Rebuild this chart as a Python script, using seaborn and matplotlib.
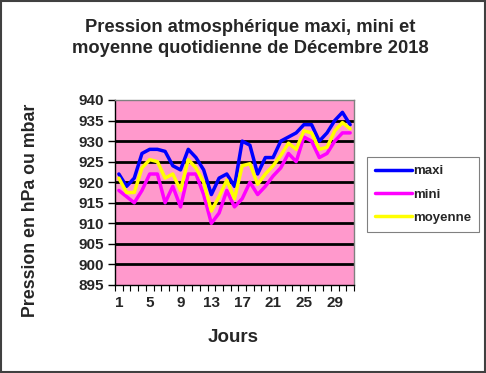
import matplotlib
matplotlib.use("Agg")
import matplotlib.pyplot as plt
import numpy as np
import pandas as pd
import seaborn as sns

# Relevés de pression, décembre 2018
jours = list(range(1, 32))
maxi = [922, 919, 921, 927, 928, 928, 927.5, 924, 923, 928, 926, 923, 917, 921, 922,
        919, 930, 929, 922, 926, 926, 930, 931, 932, 934, 934, 930, 932, 935, 937, 934]
mini = [918, 916.5, 915, 918, 922, 922, 915, 919, 914, 922, 922, 917, 910, 912.5, 918,
        914, 916, 920, 917, 919, 921.5, 923.5, 927, 925, 931, 930, 926, 927, 930, 932, 932]
moyenne = [921, 917.5, 917.5, 923.5, 925.5, 925, 921, 922, 918, 925.5, 923.5, 920, 913, 916.5, 920.5,
           916, 924, 924.5, 919.5, 922, 924, 926.5, 929.5, 928, 932.5, 932, 928, 928.5, 932.5, 934.5, 933]

df = pd.DataFrame({"jour": jours, "maxi": maxi, "mini": mini, "moyenne": moyenne})
df_long = df.melt(id_vars="jour", var_name="serie", value_name="pression")

sns.set_style("white")
plt.rcParams['font.family'] = ['Liberation Sans', 'DejaVu Sans']
plt.rcParams['font.weight'] = 'bold'

fig = plt.figure(figsize=(4.86, 3.73), dpi=100)
ax = fig.add_axes([115 / 486, 1 - 285 / 373, 239 / 486, 185 / 373])
ax.set_facecolor('#FF99CC')

# grille horizontale noire
for v in range(900, 940, 5):
    ax.axhline(v, color='black', lw=2, zorder=1)

palette = {"maxi": "#0000FF", "mini": "#FF00FF", "moyenne": "#FFFF00"}
sns.lineplot(data=df_long, x="jour", y="pression", hue="serie", palette=palette,
             lw=2.5, ax=ax, legend=False, zorder=3)

ax.set_xlim(0.5, 31.5)
ax.set_ylim(895, 940)
ax.set_yticks(range(895, 941, 5))
ax.tick_params(axis='y', direction='out', length=5, width=1, color='black', labelsize=11, pad=3, left=True)
ax.set_xticks(np.arange(0.5, 32, 1))
ax.set_xticklabels([])
ax.tick_params(axis='x', which='major', direction='out', length=4, width=0.8, color='black', bottom=True)
ax.set_xticks(range(1, 32, 4), minor=True)
ax.set_xticklabels([str(j) for j in range(1, 32, 4)], minor=True)
ax.tick_params(axis='x', which='minor', length=0, labelsize=11, pad=8)
for lbl in ax.get_xticklabels(minor=True) + ax.get_yticklabels():
    lbl.set_fontweight('bold')

for side in ['left', 'bottom']:
    ax.spines[side].set_color('black')
    ax.spines[side].set_linewidth(1)
for side in ['top', 'right']:
    ax.spines[side].set_color('#808080')
    ax.spines[side].set_linewidth(1)

ax.set_xlabel("Jours", fontsize=13.5, fontweight='bold')
ax.xaxis.set_label_coords((233 - 115) / 239, -(329 - 285) / 185)
ax.set_ylabel("Pression en hPa ou mbar", fontsize=12.8, fontweight='bold')
ax.yaxis.set_label_coords(-(115 - 39) / 239, (285 - 210) / 185)

# titre sur deux lignes
fig.text(250 / 486, 1 - 32 / 373, "Pression atmosphérique maxi, mini et",
         ha='center', va='baseline', fontsize=13.2, fontweight='bold')
fig.text(250 / 486, 1 - 53 / 373, "moyenne quotidienne de Décembre 2018",
         ha='center', va='baseline', fontsize=13.2, fontweight='bold')

# légende
handles = [plt.Line2D([0], [0], color=palette[s], lw=2.5) for s in ["maxi", "mini", "moyenne"]]
leg = fig.legend(handles, ["maxi", "mini", "moyenne"], loc='upper left',
                 bbox_to_anchor=(367 / 486, 1 - 157 / 373), fancybox=False, frameon=True,
                 fontsize=9.5, handlelength=2.8, handletextpad=0.1, labelspacing=0.85,
                 borderpad=0.6, borderaxespad=0)
leg.get_frame().set_edgecolor('#606060')
leg.get_frame().set_linewidth(0.8)
for t in leg.get_texts():
    t.set_fontweight('bold')

# cadre de la figure
fig.patches.append(plt.Rectangle((0.002, 0.002), 0.996, 0.996, transform=fig.transFigure,
                                 fill=False, edgecolor='#404040', lw=1.5))

fig.savefig("out.png", dpi=100)
